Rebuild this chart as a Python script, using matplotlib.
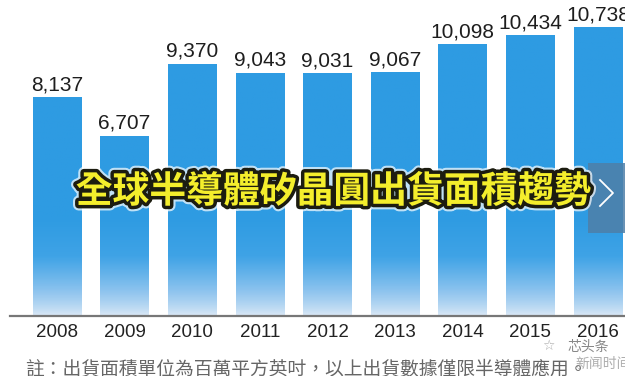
import numpy as np
import matplotlib
matplotlib.use("Agg")
import matplotlib.pyplot as plt
import matplotlib.patheffects as pe
from matplotlib.patches import Rectangle
from matplotlib.colors import LinearSegmentedColormap

years = ["2008", "2009", "2010", "2011", "2012", "2013", "2014", "2015", "2016"]
area = [8137, 6707, 9370, 9043, 9031, 9067, 10098, 10434, 10738]
title = "全球半導體矽晶圓出貨面積趨勢"
note = "註：出貨面積單位為百萬平方英吋，以上出貨數據僅限半導體應用。"

plt.rcParams['font.family'] = ['Liberation Sans', 'Noto Sans CJK TC', 'DejaVu Sans']

W, H = 625, 376
fig = plt.figure(figsize=(W / 100, H / 100), dpi=100)
fig.patch.set_facecolor('white')
ax = fig.add_axes([0, 60 / H, 1, 316 / H])
ax.set_xlim(-0.843, 8.40)
ax.set_ylim(0, 11743)
ax.axis('off')

# bar fill: solid blue on top, fading to pale blue at the base
cmap = LinearSegmentedColormap.from_list('bar', ['#dce9f6', '#8cc3ee', '#3fa3e6', '#2e9be2'])
grad = np.linspace(0, 1, 256).reshape(-1, 1)
grad = np.clip(grad * 3.2, 0, 1) ** 0.8

bw = 0.72
for i, v in enumerate(area):
    rect = Rectangle((i - bw / 2, 0), bw, v, facecolor='none', edgecolor='none')
    ax.add_patch(rect)
    im = ax.imshow(grad, cmap=cmap, aspect='auto', origin='lower',
                   extent=(i - bw / 2, i + bw / 2, 0, 11743), vmin=0, vmax=1)
    im.set_clip_path(rect)
    ax.annotate(f"{v:,}", (i, v), xytext=(0, 5), textcoords='offset points',
                ha='center', va='baseline', fontsize=15, color='#1e1e1e')

# baseline
ax.axhline(0, xmin=10 / W, xmax=1, color='#777777', lw=1.6, clip_on=False)

for i, y in enumerate(years):
    ax.annotate(y, (i, 0), xytext=(0, -12), textcoords='offset points',
                ha='center', va='center', fontsize=13.5, color='#222222',
                annotation_clip=False)

# overlay title
fig.text(333 / W, 1 - 192 / H, title, ha='center', va='center',
         fontsize=26.5, fontweight='heavy', color='#f4ee2c',
         family=['Noto Sans CJK TC'],
         path_effects=[pe.Stroke(linewidth=8, foreground='white', alpha=0.7),
                       pe.Stroke(linewidth=5, foreground='#1c1c10'),
                       pe.Normal()])

# side arrow box
fig.patches.append(Rectangle((588 / W, 1 - 233 / H), 40 / W, 70 / H,
                             transform=fig.transFigure, facecolor='#4f7fa8',
                             alpha=0.85, edgecolor='none'))
fig.lines.append(plt.Line2D([600 / W, 613 / W, 600 / W],
                            [1 - 180 / H, 1 - 193 / H, 1 - 206 / H],
                            transform=fig.transFigure, color='white', lw=1.3))

# footnote
fig.text(25 / W, 1 - 359 / H, note, ha='left', va='top', fontsize=13.5,
         color='#666666', family=['Noto Sans CJK TC'])

# watermark
fig.text(567 / W, 1 - 347 / H, "芯头条", ha='left', va='center', fontsize=10,
         color='#888888', family=['Noto Sans CJK SC'])
fig.text(548 / W, 1 - 346 / H, "☆", ha='center', va='center', fontsize=10,
         color='#aaaaaa', family=['DejaVu Sans'])
fig.text(575 / W, 1 - 364 / H, "新闻时间", ha='left', va='center', fontsize=10,
         color='#999999', alpha=0.8, family=['Noto Sans CJK SC'])

fig.savefig('out.png', dpi=100, facecolor='white')
